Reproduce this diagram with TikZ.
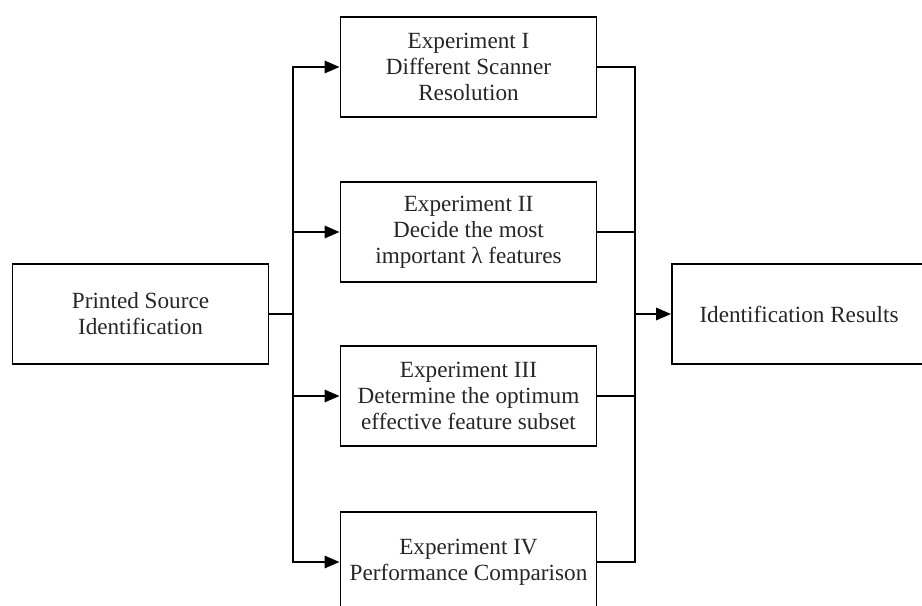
\documentclass[tikz,border=0pt]{standalone}
\usepackage{fontspec}
\setmainfont{Liberation Serif}
\usetikzlibrary{arrows.meta}
\begin{document}
\begin{tikzpicture}[x=0.02cm, y=0.02cm,
                box/.style={draw, line width=1.1pt, minimum width=5.12cm, minimum height=2cm,
                        align=center, inner sep=0pt, font=\fontsize{13.2}{14.8}\selectfont, text=black!85},
                link/.style={line width=1.1pt},
                arr/.style={line width=1.1pt, -{Triangle[length=8.5pt, width=7pt]}}]
                \clip (0, 0) rectangle (922, 605);

                \node[box] (src) at (140.5, 291) {Printed Source\\Identification};

                \node[box] (exp1) at (468.5, 538) {Experiment I\\Different Scanner\\Resolution};

                \node[box] (exp2) at (468.5, 373) {Experiment II\\Decide the most\\important λ features};

                \node[box] (exp3) at (468.5, 209) {Experiment III\\Determine the optimum\\effective feature subset};

                \node[box] (exp4) at (468.5, 43) {Experiment IV\\Performance Comparison};

                \node[box, minimum width=5.08cm] (res) at (799, 291) {Identification Results};

                \coordinate (split) at (293, 291);

                \coordinate (join) at (635, 291);

                \draw[link] (src) -- (split);

                \draw[arr] (split) |- (exp1);

                \draw[arr] (split) |- (exp2);

                \draw[arr] (split) |- (exp3);

                \draw[arr] (split) |- (exp4);

                \draw[link] (exp1) -| (join);

                \draw[link] (exp2) -| (join);

                \draw[link] (exp3) -| (join);

                \draw[link] (exp4) -| (join);

                \draw[arr] (join) -- (res);
            \end{tikzpicture}
\end{document}
